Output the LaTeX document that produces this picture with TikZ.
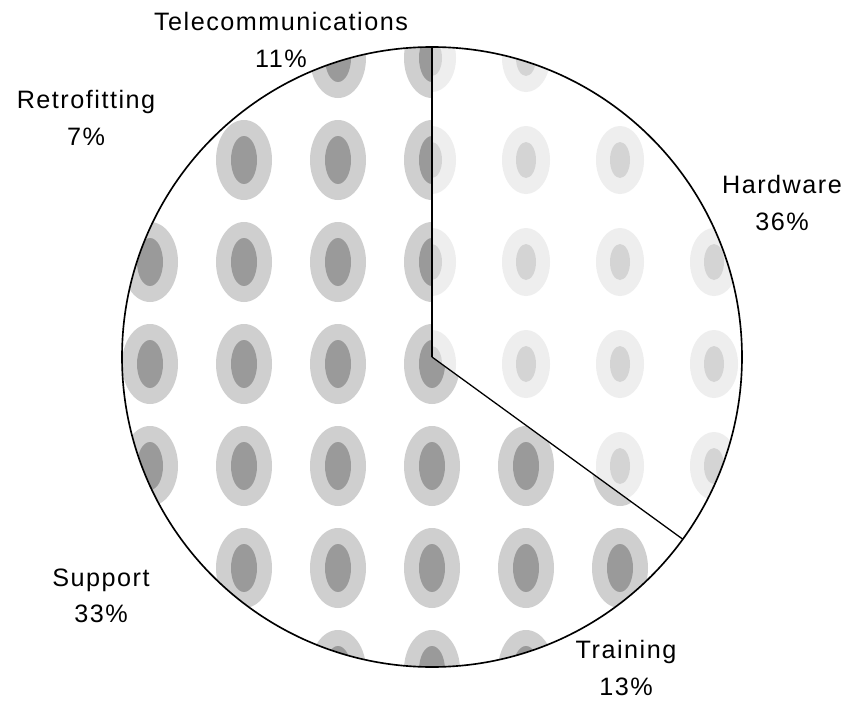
\documentclass[tikz,border=0pt]{standalone}
\usepackage{fontspec}
\setmainfont{Liberation Sans}
\newfontfamily\lblfont[LetterSpace=6]{Liberation Sans}
\usetikzlibrary{calc}
\definecolor{ink}{HTML}{000000}
\definecolor{dotdark}{HTML}{9A9A9A}
\definecolor{dotmid}{HTML}{CFCFCF}
\definecolor{dotlight}{HTML}{D4D4D4}
\definecolor{dotpale}{HTML}{EEEEEE}
\tikzset{
  line/.style={draw=ink, line width=1.1pt},
  rim/.style={draw=ink, line width=1.4pt},
  blobouter/.style={fill=dotmid},
  blobinner/.style={fill=dotdark},
  lightouter/.style={fill=dotpale},
  lightinner/.style={fill=dotlight},
  lbl/.style={font=\lblfont\fontsize{21.5}{31}\selectfont, align=center, inner sep=0pt}
}

\begin{document}
\begin{tikzpicture}[x=0.03cm, y=0.03cm]
  \useasboundingbox (0,0) rectangle (855,-701);
  \fill[white] (0,0) rectangle (855,-701);

  \def\r{310}
  \coordinate (C) at (432,-357);
  \coordinate (T) at ($(C)+(90:\r)$);
  \coordinate (B) at ($(C)+(-36:\r)$);

  % mottled fill
  \begin{scope}
    \clip (C) circle[radius=\r];
    \foreach \x in {150,244,...,714}
      \foreach \y in {58,160,...,670}
        {\fill[blobouter] (\x,-\y) ellipse[x radius=28, y radius=40];
         \fill[blobinner] (\x,-\y) ellipse[x radius=13, y radius=24];}
    % hardware slice is paler
    \fill[white] (C) -- (T) arc[start angle=90, end angle=-36, radius=\r] -- cycle;
    \clip (C) -- (T) arc[start angle=90, end angle=-36, radius=\r] -- cycle;
    \foreach \x in {432,526,...,714}
      \foreach \y in {58,160,...,670}
        {\fill[lightouter] (\x,-\y) ellipse[x radius=24, y radius=34];
         \fill[lightinner] (\x,-\y) ellipse[x radius=10, y radius=18];}
  \end{scope}

  \draw[rim] (C) circle[radius=\r];
  \draw[line] (C) -- (T);
  \draw[line] (C) -- (B);

  \node[lbl] (telecom) at (281,-40) {Telecommunications\\11\%};
  \node[lbl] (retro) at (86,-118) {Retrofitting\\7\%};
  \node[lbl] (hardware) at (782,-203) {Hardware\\36\%};
  \node[lbl] (support) at (101,-596) {Support\\33\%};
  \node[lbl] (training) at (626,-668) {Training\\13\%};
\end{tikzpicture}
\end{document}
